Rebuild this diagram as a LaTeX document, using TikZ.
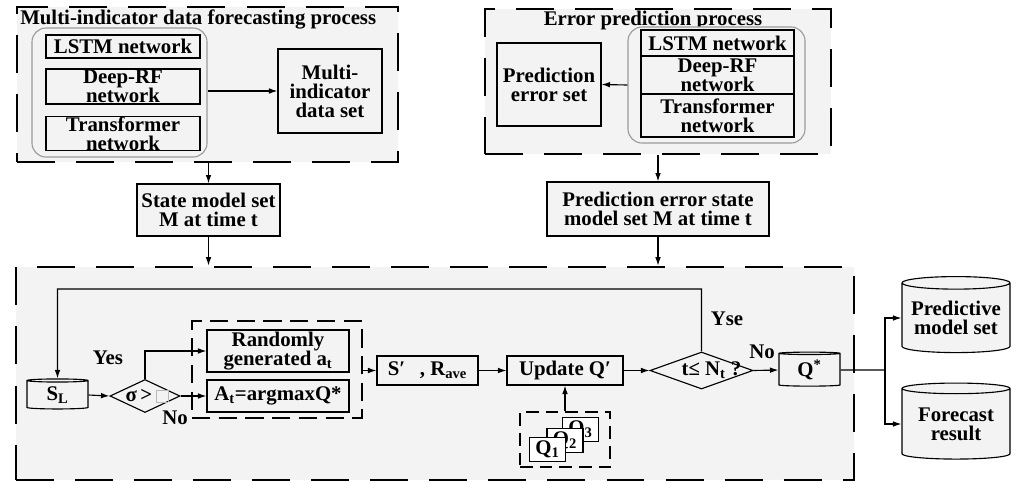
\documentclass[tikz,border=0pt]{standalone}
\usepackage{fontspec}
\setmainfont{Liberation Serif}
\usetikzlibrary{arrows.meta,shapes.geometric}

\definecolor{panel}{HTML}{F3F3F3}
\definecolor{edge}{HTML}{9A9A9A}
% small grey placeholder square after sigma
\newcommand{\holder}{\textcolor{gray!55}{\fboxsep=0pt\fboxrule=0.5pt\fbox{\rule{0pt}{0.55em}\hspace{0.55em}}}}

\begin{document}
\begin{tikzpicture}[x=0.025cm,y=-0.025cm,
  font=\bfseries\fontsize{14.8}{13.6}\selectfont,
  flow/.style={-{Latex[length=6pt,width=4pt]},line width=0.8pt},
  procbox/.style={draw,line width=0.8pt,fill=panel,align=center,inner sep=0pt},
  dashframe/.style={draw,line width=1.9pt,dash pattern=on 27pt off 15pt,fill=panel,inner sep=0pt},
  dashgroup/.style={draw,line width=1pt,dash pattern=on 13pt off 6pt,inner sep=0pt},
  netgroup/.style={draw=edge,line width=0.8pt,rounded corners=10pt,fill=panel,inner sep=0pt},
  store/.style={draw,line width=0.8pt,fill=panel,shape=cylinder,shape border rotate=90,aspect=0.14,inner sep=0pt,align=center},
  decide/.style={draw,line width=0.8pt,fill=panel,diamond,inner sep=0pt},
  qcard/.style={draw,line width=0.8pt,fill=white,minimum width=0.9cm,minimum height=0.6cm,inner sep=0pt},
  tag/.style={inner sep=0pt}]
  \useasboundingbox (0,0) rectangle (1018,482);

  % Multi-indicator forecasting part
  \node[dashframe,minimum width=9.525cm,minimum height=3.875cm] (frameL) at (207.5,84.5) {};
  \node[tag,anchor=west] (titleL) at (20,19) {Multi-indicator data forecasting process};
  \node[netgroup,minimum width=4.375cm,minimum height=3.225cm] (grpL) at (119.5,92.5) {};
  \node[procbox,minimum width=3.85cm,minimum height=0.575cm] (lstmL) at (123,46.5) {LSTM network};
  \node[procbox,minimum width=3.85cm,minimum height=0.875cm] (rfL) at (123,86.5) {Deep-RF\\network};
  \node[procbox,minimum width=3.85cm,minimum height=0.825cm] (trL) at (123,133.5) {Transformer\\network};
  \node[procbox,minimum width=2.6cm,minimum height=2.1cm] (multi) at (330,91) {Multi-\\indicator\\data set};
  \draw[flow] (grpL.east |- multi) -- (multi.west);

  % Error prediction part
  \node[dashframe,minimum width=8.65cm,minimum height=3.625cm] (frameR) at (658,81.5) {};
  \node[tag] (titleR) at (653,20) {Error prediction process};
  \node[netgroup,minimum width=4.425cm,minimum height=2.9cm] (grpR) at (716.5,85) {};
  \node[procbox,minimum width=3.825cm,minimum height=0.65cm] (lstmR) at (717.5,43) {LSTM network};
  \node[procbox,minimum width=3.825cm,minimum height=0.95cm] (rfR) at (717.5,75) {Deep-RF\\network};
  \node[procbox,minimum width=3.825cm,minimum height=1.075cm] (trR) at (717.5,115.5) {Transformer\\network};
  \node[procbox,minimum width=2.6cm,minimum height=2.075cm] (perr) at (549,84.5) {Prediction\\error set};
  \draw[flow] (grpR.west) -- (perr.east);

  % State model sets
  \node[procbox,minimum width=3.575cm,minimum height=1.3cm] (stateL) at (208.5,210) {State model set\\M at time t};
  \node[procbox,minimum width=5.55cm,minimum height=1.35cm] (stateR) at (658,209) {Prediction error state\\model set M at time t};

  % Q-learning loop
  \node[dashframe,minimum width=20.95cm,minimum height=5.325cm] (frameB) at (435,373.5) {};
  \draw[flow] (stateL.north |- frameL.south) -- (stateL.north);
  \draw[flow] (stateL.south) -- (stateL.south |- frameB.north);
  \draw[flow] (stateR.north |- frameR.south) -- (stateR.north);
  \draw[flow] (stateR.south) -- (stateR.south |- frameB.north);

  \node[store,minimum width=1.525cm,minimum height=0.75cm] (sl) at (57.5,395) {S\textsubscript{L}};
  \node[decide,minimum width=1.75cm,minimum height=0.825cm,
        label={[xshift=0.05cm]center:{σ\,>\,\holder}}] (sigma) at (145,396) {};
  \node[dashgroup,minimum width=4.25cm,minimum height=2.425cm] (actgrp) at (277,369.5) {};
  \node[procbox,minimum width=3.55cm,minimum height=1.05cm] (rand) at (278,351) {Randomly\\generated a\textsubscript{t}};
  \node[procbox,minimum width=3.55cm,minimum height=0.8cm] (argmax) at (278,396) {A\textsubscript{t}=argmaxQ*};
  \node[tag] (yes) at (108,358) {Yes};
  \node[tag] (noL) at (175,418) {No};
  \draw[flow] (sl.east) -- (sigma.west);
  \draw[flow] (sigma.north) |- (rand.west);
  \draw[flow] (sigma.east) -- (argmax.west);

  \node[procbox,minimum width=2.525cm,minimum height=0.725cm] (snext) at (427.5,370.5) {S′\hspace{0.7em}, R\textsubscript{ave}};
  \node[procbox,minimum width=2.9cm,minimum height=0.725cm] (upd) at (565,370.5) {Update Q′};
  \node[decide,minimum width=2.575cm,minimum height=0.925cm,
        label={[xshift=0.25cm]center:{t≤ N\textsubscript{t} ?}}] (tdec) at (701.5,370.5) {};
  \draw[flow] (actgrp.east |- snext) -- (snext.west);
  \draw[flow] (snext.east) -- (upd.west);
  \draw[flow] (upd.east) -- (tdec.west);

  % stacked Q tables
  \node[dashgroup,dash pattern=on 9pt off 5pt,minimum width=2.25cm,minimum height=1.375cm] (qgrp) at (565,439.5) {};
  \node[qcard] (q3) at (580.5,429.5) {Q\textsubscript{3}};
  \node[qcard] (q2) at (565,440.5) {Q\textsubscript{2}};
  \node[qcard] (q1) at (547.5,449.5) {Q\textsubscript{1}};
  \draw[flow] (qgrp.north) -- (upd.south);

  % back to S_L while t <= N_t
  \coordinate (loop) at (57.5,289);
  \draw[flow] (tdec.north) |- (loop) -- (sl.north);
  \node[tag] (yse) at (727,319) {Yse};
  \node[tag] (noR) at (762,352) {No};

  % outputs
  \node[store,aspect=0.1,minimum width=1.525cm,minimum height=0.85cm] (qstar) at (809.5,370) {Q\textsuperscript{*}};
  \node[store,minimum width=2.7cm,minimum height=1.9cm] (pred) at (956,318) {Predictive\\model set};
  \node[store,minimum width=2.7cm,minimum height=1.9cm] (fcast) at (956,424) {Forecast\\result};
  \draw[flow] (tdec.east) -- (qstar.west);
  \coordinate (split) at (885,370);
  \draw[line width=0.8pt] (qstar.east) -- (split);
  \draw[flow] (split) |- (pred.west);
  \draw[flow] (split) |- (fcast.west);
\end{tikzpicture}
\end{document}
